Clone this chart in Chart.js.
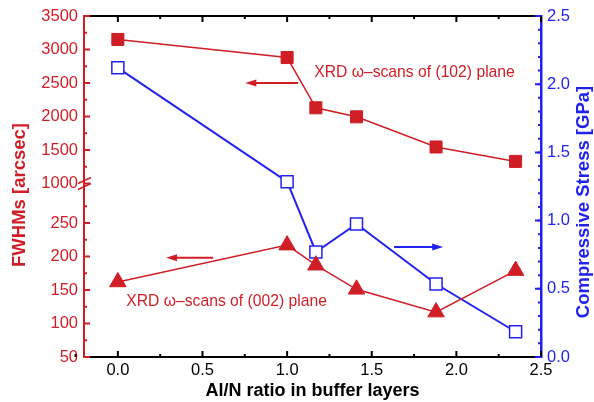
<!DOCTYPE html>
<html>
<head>
<meta charset="utf-8">
<script src="https://cdn.jsdelivr.net/npm/chart.js@4.4.0/dist/chart.umd.min.js"></script>
<style>
  html, body { margin: 0; padding: 0; background: #fff; }
  #wrap { width: 594px; height: 402px; }
</style>
</head>
<body>
<div id="wrap"><canvas id="chart" width="594" height="402"></canvas></div>
<script>
// data
const ratio = [0, 1.0, 1.17, 1.41, 1.88, 2.35];
const fwhm102 = [3150, 2880, 2130, 1995, 1545, 1330];
const fwhm002 = [162, 217, 187, 151, 117, 179];
const stress = [2.12, 1.285, 0.77, 0.975, 0.535, 0.185];

// tick labels
const xTicks = [0, 0.5, 1.0, 1.5, 2.0, 2.5];
const yTopTicks = [1000, 1500, 2000, 2500, 3000, 3500];
const yBotTicks = [50, 100, 150, 200, 250];
const y2Ticks = [0, 0.5, 1.0, 1.5, 2.0, 2.5];

const RED = '#d01e26';
const BLUE = '#2222ee';
const FONT = "'Liberation Sans', Arial, sans-serif";

function pts(ys) {
    return ratio.map((x, i) => ({ x: x, y: ys[i] }));
}

function fixTicks(list) {
    return function(scale) {
        scale.ticks = list.map(v => ({ value: v }));
    };
}

// inward ticks, break marks, axis titles and the arrow notes
const decorPlugin = {
    id: 'decor',
    afterDraw(chart) {
        const c = chart.ctx;
        const a = chart.chartArea;
        const s = chart.scales;

        function tickSet(scale, from, to, step, len, color, side) {
            c.strokeStyle = color;
            c.lineWidth = 2;
            c.beginPath();
            for (let v = from; v <= to + 1e-9; v += step) {
                const p = scale.getPixelForValue(v);
                if (side === 'left') { c.moveTo(a.left, p); c.lineTo(a.left + len, p); }
                if (side === 'right') { c.moveTo(a.right, p); c.lineTo(a.right - len, p); }
                if (side === 'bottom') { c.moveTo(p, a.bottom); c.lineTo(p, a.bottom - len); }
                if (side === 'top') { c.moveTo(p, a.top); c.lineTo(p, a.top + len); }
            }
            c.stroke();
        }

        // top frame line
        c.save();
        c.strokeStyle = '#000';
        c.lineWidth = 2;
        c.beginPath();
        c.moveTo(a.left, a.top);
        c.lineTo(a.right, a.top);
        c.stroke();

        tickSet(s.x, 0, 2.5, 0.5, 6, '#000', 'bottom');
        tickSet(s.x, -0.25, 2.5, 0.5, 3, '#000', 'bottom');
        tickSet(s.x, 0, 2.5, 0.5, 6, '#000', 'top');
        tickSet(s.x, 0.25, 2.5, 0.5, 3, '#000', 'top');
        tickSet(s.yTop, 1000, 3500, 500, 6, RED, 'left');
        tickSet(s.yTop, 1250, 3500, 500, 3, RED, 'left');
        tickSet(s.yBot, 50, 250, 50, 6, RED, 'left');
        tickSet(s.yBot, 75, 275, 50, 3, RED, 'left');
        tickSet(s.y2, 0, 2.5, 0.5, 6, BLUE, 'right');
        tickSet(s.y2, 0.1, 2.45, 0.1, 3, BLUE, 'right');

        // break marks on the left axis
        const yb = s.yTop.bottom;
        c.strokeStyle = RED;
        c.lineWidth = 1.6;
        c.beginPath();
        [-3, 3].forEach(d => {
            c.moveTo(a.left - 6, yb + d + 3);
            c.lineTo(a.left + 7, yb + d - 3);
        });
        c.stroke();

        // axis titles
        c.font = 'bold 18.5px ' + FONT;
        c.textAlign = 'center';
        c.textBaseline = 'middle';
        c.fillStyle = RED;
        c.save();
        c.translate(20, 195);
        c.rotate(-Math.PI / 2);
        c.fillText('FWHMs [arcsec]', 0, 0);
        c.restore();
        c.fillStyle = BLUE;
        c.save();
        c.translate(584, 202);
        c.rotate(-Math.PI / 2);
        c.fillText('Compressive Stress [GPa]', 0, 0);
        c.restore();

        // notes
        c.font = '15.7px ' + FONT;
        c.textAlign = 'left';
        c.fillStyle = RED;
        c.fillText('XRD \u03c9\u2013scans of (102) plane', s.x.getPixelForValue(1.16), s.yTop.getPixelForValue(2650));
        c.fillText('XRD \u03c9\u2013scans of (002) plane', s.x.getPixelForValue(0.05), s.yBot.getPixelForValue(132));

        function arrow(x1, x2, y, color) {
            const dir = Math.sign(x2 - x1);
            c.strokeStyle = color;
            c.fillStyle = color;
            c.lineWidth = 2;
            c.beginPath();
            c.moveTo(x1, y);
            c.lineTo(x2 - dir * 8, y);
            c.stroke();
            c.beginPath();
            c.moveTo(x2, y);
            c.lineTo(x2 - dir * 11, y - 3.5);
            c.lineTo(x2 - dir * 11, y + 3.5);
            c.closePath();
            c.fill();
        }
        arrow(s.x.getPixelForValue(1.065), s.x.getPixelForValue(0.753), s.yTop.getPixelForValue(2500), RED);
        arrow(s.x.getPixelForValue(0.563), s.x.getPixelForValue(0.285), s.yBot.getPixelForValue(198), RED);
        arrow(s.x.getPixelForValue(1.632), s.x.getPixelForValue(1.922), s.y2.getPixelForValue(0.806), BLUE);
        c.restore();
    }
};

const tickFont = { family: FONT, size: 16.5 };

new Chart(document.getElementById('chart'), {
    type: 'line',
    data: {
        datasets: [
            {
                label: 'XRD (102)',
                data: pts(fwhm102),
                yAxisID: 'yTop',
                borderColor: RED,
                backgroundColor: RED,
                borderWidth: 1.5,
                pointStyle: 'rect',
                pointRadius: 8.5,
                pointBorderWidth: 1
            },
            {
                label: 'XRD (002)',
                data: pts(fwhm002),
                yAxisID: 'yBot',
                borderColor: RED,
                backgroundColor: RED,
                borderWidth: 1.5,
                pointStyle: 'triangle',
                pointRadius: 9.5,
                pointBorderWidth: 1
            },
            {
                label: 'Compressive stress',
                data: pts(stress),
                yAxisID: 'y2',
                borderColor: BLUE,
                backgroundColor: '#fff',
                borderWidth: 2,
                pointStyle: 'rect',
                pointRadius: 8.5,
                pointBorderWidth: 1.5
            }
        ]
    },
    options: {
        responsive: false,
        animation: false,
        layout: { padding: { top: 16, left: 0, right: 0, bottom: 0 } },
        plugins: {
            legend: { display: false },
            tooltip: { enabled: false }
        },
        scales: {
            x: {
                type: 'linear',
                min: -0.2,
                max: 2.5,
                afterBuildTicks: fixTicks(xTicks),
                afterFit(scale) { scale.height = 45; },
                grid: { display: false, drawTicks: false },
                border: { display: true, color: '#000', width: 2 },
                ticks: {
                    color: '#000',
                    font: tickFont,
                    padding: 4,
                    autoSkip: false,
                    callback: v => v.toFixed(1)
                },
                title: {
                    display: true,
                    text: 'Al/N ratio in buffer layers',
                    color: '#000',
                    font: { family: FONT, size: 18, weight: 'bold' },
                    padding: { top: 0, bottom: 0 }
                }
            },
            // stacked layout places the later-listed scale on top
            yBot: {
                type: 'linear',
                position: 'left',
                stack: 'fwhm',
                stackWeight: 173.5,
                min: 50,
                max: 309,
                afterBuildTicks: fixTicks(yBotTicks),
                afterFit(scale) { scale.width = 84; },
                grid: { display: false, drawTicks: false },
                border: { display: true, color: RED, width: 2 },
                ticks: { color: RED, font: tickFont, padding: 6, autoSkip: false, callback: v => String(v) }
            },
            yTop: {
                type: 'linear',
                position: 'left',
                stack: 'fwhm',
                stackWeight: 167.5,
                min: 1000,
                max: 3500,
                afterBuildTicks: fixTicks(yTopTicks),
                afterFit(scale) { scale.width = 84; },
                grid: { display: false, drawTicks: false },
                border: { display: true, color: RED, width: 2 },
                ticks: { color: RED, font: tickFont, padding: 6, autoSkip: false, callback: v => String(v) }
            },
            y2: {
                type: 'linear',
                position: 'right',
                min: 0,
                max: 2.5,
                afterBuildTicks: fixTicks(y2Ticks),
                afterFit(scale) { scale.width = 53; },
                grid: { display: false, drawTicks: false },
                border: { display: true, color: BLUE, width: 2.5 },
                ticks: {
                    color: BLUE,
                    font: tickFont,
                    padding: 6,
                    autoSkip: false,
                    callback: v => v.toFixed(1)
                }
            }
        }
    },
    plugins: [decorPlugin]
});
</script>
</body>
</html>
